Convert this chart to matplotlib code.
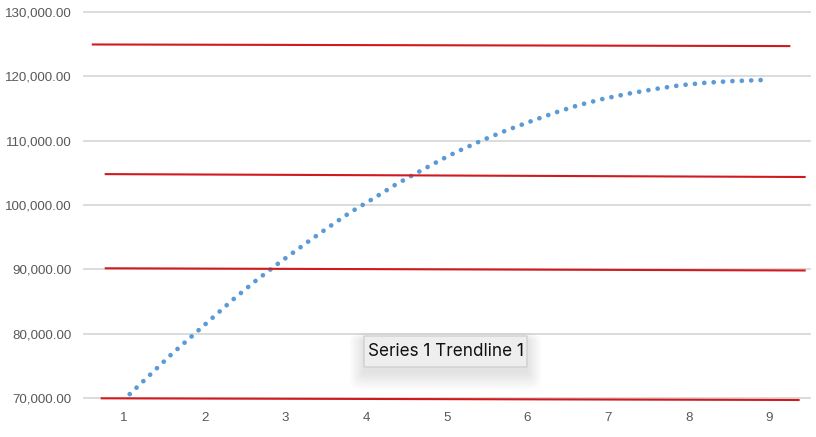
import matplotlib.pyplot as plt
from matplotlib.patches import FancyBboxPatch

# Trendline of series 1 (x position, value)
trend_x = [1.07, 1.33, 1.58, 1.84, 2.10, 2.36, 2.63, 2.90, 3.26, 3.53, 3.81, 4.09,
           4.37, 4.66, 4.94, 5.13, 5.43, 5.73, 6.03, 6.33, 6.63, 6.94, 7.25, 7.57,
           7.89, 8.21, 8.53, 8.97]
trend_y = [70600, 73700, 76700, 79600, 82500, 85400, 88200, 90800, 94100, 96500,
           98900, 101000, 103200, 105200, 107100, 108300, 110000, 111550, 112950,
           114300, 115500, 116500, 117300, 118000, 118600, 119000, 119250, 119450]

# Reference levels drawn across the chart: (x start, x end, y start, y end)
level_x0 = [0.60, 0.76, 0.76, 0.71]
level_x1 = [9.26, 9.45, 9.45, 9.375]
level_y0 = [124950, 104800, 90160, 69950]
level_y1 = [124700, 104350, 89820, 69690]

x_ticks = [1, 2, 3, 4, 5, 6, 7, 8, 9]
y_ticks = [70000, 80000, 90000, 100000, 110000, 120000, 130000]

tooltip_text = "Series 1 Trendline 1"

W, H = 816, 437
fig = plt.figure(figsize=(W / 100, H / 100), dpi=100)
ax = fig.add_axes([0.1026, 0.0819, 0.8897, 0.8951])

ax.set_xlim(0.5, 9.5)
ax.set_ylim(69500, 130300)
ax.set_xticks(x_ticks)
ax.set_yticks(y_ticks)
ax.set_xticklabels([str(v) for v in x_ticks])
ax.set_yticklabels([f"{v:,.2f}" for v in y_ticks])
ax.tick_params(length=0, colors="#595959", labelsize=9.6)
ax.tick_params(axis="y", pad=9)
ax.tick_params(axis="x", pad=8)
for lab in ax.get_xticklabels() + ax.get_yticklabels():
    lab.set_family(["Liberation Sans", "DejaVu Sans"])

for s in ax.spines.values():
    s.set_visible(False)

ax.yaxis.grid(True, color="#D9D9D9", linewidth=1.3)
ax.set_axisbelow(True)
for gl in ax.get_ygridlines():
    gl.set_clip_on(False)

# dotted trendline
ax.plot(trend_x, trend_y, color="#5B9BD5", linewidth=3.4,
        dashes=(0.01, 1.98), dash_capstyle="round", zorder=3)

# red level lines
for x0, x1, y0, y1 in zip(level_x0, level_x1, level_y0, level_y1):
    ax.plot([x0, x1], [y0, y1], color="#D01A1E", linewidth=1.5,
            solid_capstyle="butt", zorder=4, clip_on=False)

# hover tooltip with a soft shadow
def px_box(x0, y0, x1, y1):
    return x0 / W, 1 - y1 / H, (x1 - x0) / W, (y1 - y0) / H

bx0, by0, bx1, by1 = 364, 336, 527, 367
for i in range(14, 0, -1):
    g = i * 1.3
    l, b, w, h = px_box(bx0 - g * 0.8, by0 - g * 0.5 + 5, bx1 + g * 0.8, by1 + g + 5)
    fig.patches.append(FancyBboxPatch((l, b), w, h,
                                      boxstyle=f"round,pad=0,rounding_size={g / W:.4f}",
                                      transform=fig.transFigure, facecolor="black",
                                      edgecolor="none", alpha=0.006, zorder=8))
l, b, w, h = px_box(bx0, by0, bx1, by1)
fig.patches.append(FancyBboxPatch((l, b), w, h, boxstyle="round,pad=0",
                                  transform=fig.transFigure, facecolor="#EEEEEE",
                                  edgecolor="#CACACA", linewidth=0.8, zorder=9))
fig.text((bx0 + bx1) / 2 / W, 1 - (by0 + by1) / 2 / H, tooltip_text,
         ha="center", va="center", fontsize=12.3, color="#111111",
         family=["Inter", "DejaVu Sans"], zorder=10)

fig.savefig("out.png", dpi=100, facecolor="white")
